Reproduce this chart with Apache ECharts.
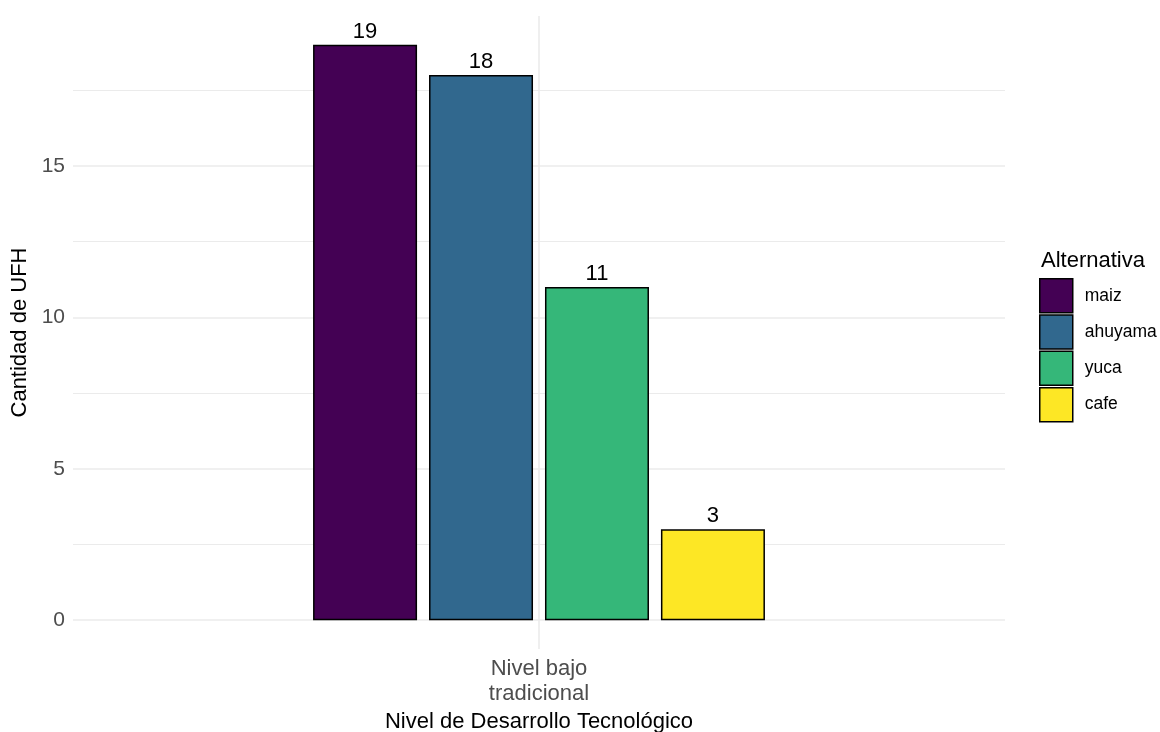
<!DOCTYPE html>
<html>
<head>
<meta charset="utf-8">
<script src="https://cdn.jsdelivr.net/npm/echarts@6/dist/echarts.min.js"></script>
<style>html,body{margin:0;padding:0;background:#fff}#c{width:1160px;height:732px}</style>
</head>
<body>
<div id="c"></div>
<script>
const categories = ["Nivel bajo\ntradicional"];
const seriesNames = ["maiz", "ahuyama", "yuca", "cafe"];
const seriesValues = [[19], [18], [11], [3]];
const colors = ["#440154", "#31688E", "#35B779", "#FDE725"];
const yTicks = [0, 5, 10, 15];
const yGrid = [0, 2.5, 5, 7.5, 10, 12.5, 15, 17.5];

const FONT = '"Liberation Sans", Arial, sans-serif';
const chart = echarts.init(document.getElementById('c'));

const bars = seriesNames.map((n, i) => ({
  name: n,
  type: 'bar',
  data: seriesValues[i],
  barWidth: 104,
  barGap: '11.5%',
  z: 3,
  itemStyle: { color: colors[i], borderColor: '#000', borderWidth: 1.5 },
  label: { show: true, position: 'top', distance: 2, color: '#000', fontSize: 22, fontFamily: FONT }
}));

const gridSeries = {
  name: '_grid',
  type: 'line',
  data: [],
  z: 1,
  silent: true,
  markLine: {
    silent: true,
    z: 1,
    symbol: 'none',
    label: { show: false },
    animation: false,
    lineStyle: { color: '#ebebeb', type: 'solid', width: 1.5 },
    data: yGrid.map(v => ({ yAxis: v, lineStyle: { width: yTicks.includes(v) ? 1.6 : 1.1 } }))
      .concat([{ xAxis: 0, lineStyle: { width: 1.6 } }])
  }
};

chart.setOption({
  animation: false,
  textStyle: { fontFamily: FONT },
  grid: { left: 73, right: 155, top: 16, bottom: 83, containLabel: false, outerBoundsMode: 'none' },
  title: {
    text: 'Alternativa', left: 1036, top: 245,
    textStyle: { fontSize: 22, fontWeight: 'normal', color: '#000', fontFamily: FONT }
  },
  legend: {
    data: seriesNames,
    orient: 'vertical',
    left: 1039, top: 278, padding: 0,
    itemWidth: 33, itemHeight: 34, itemGap: 0.8,
    icon: 'rect',
    textStyle: { fontSize: 17.5, color: '#000', fontFamily: FONT, padding: [0, 0, 0, 7] },
    itemStyle: { borderColor: '#000', borderWidth: 1.5 }
  },
  xAxis: {
    type: 'category',
    data: categories,
    axisLine: { show: false },
    axisTick: { show: false },
    splitLine: { show: false },
    axisLabel: { color: '#4d4d4d', fontSize: 22, lineHeight: 25, margin: 7, fontFamily: FONT },
    name: 'Nivel de Desarrollo Tecnológico',
    nameLocation: 'middle',
    nameGap: 59,
    nameTextStyle: { color: '#000', fontSize: 22, fontFamily: FONT }
  },
  yAxis: {
    type: 'value',
    min: -0.95, max: 19.95,
    axisLine: { show: false },
    axisTick: { show: false },
    splitLine: { show: false },
    axisLabel: { customValues: yTicks, color: '#4d4d4d', fontSize: 21, margin: 8, fontFamily: FONT },
    name: 'Cantidad de UFH',
    nameLocation: 'middle',
    nameGap: 39,
    nameTextStyle: { color: '#000', fontSize: 22, fontFamily: FONT }
  },
  series: [gridSeries].concat(bars)
});
</script>
</body>
</html>
